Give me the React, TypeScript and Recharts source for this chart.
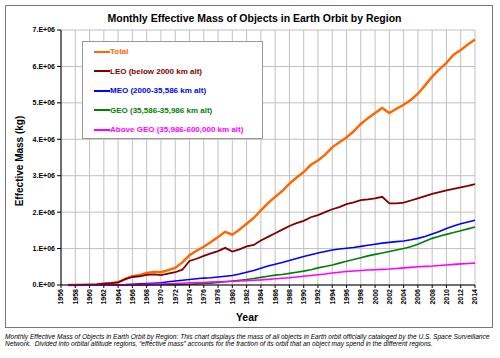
import { LineChart, Line, XAxis, YAxis, CartesianGrid } from 'recharts';

// values in millions of kg, one per year
const YEARS = [
  1957, 1958, 1959, 1960, 1961, 1962, 1963, 1964, 1965, 1966,
  1967, 1968, 1969, 1970, 1971, 1972, 1973, 1974, 1975, 1976,
  1977, 1978, 1979, 1980, 1981, 1982, 1983, 1984, 1985, 1986,
  1987, 1988, 1989, 1990, 1991, 1992, 1993, 1994, 1995, 1996,
  1997, 1998, 1999, 2000, 2001, 2002, 2003, 2004, 2005, 2006,
  2007, 2008, 2009, 2010, 2011, 2012, 2013, 2014,
];

const TOTAL = [
  0, 0.002, 0.005, 0.01, 0.018, 0.035, 0.05, 0.075, 0.17, 0.24,
  0.27, 0.33, 0.36, 0.35, 0.41, 0.47, 0.62, 0.82, 0.94, 1.05,
  1.18, 1.32, 1.46, 1.38, 1.52, 1.68, 1.84, 2.05, 2.25, 2.42,
  2.58, 2.78, 2.95, 3.1, 3.3, 3.42, 3.58, 3.78, 3.92, 4.05,
  4.22, 4.42, 4.58, 4.72, 4.86, 4.72, 4.84, 4.95, 5.08, 5.25,
  5.48, 5.72, 5.92, 6.1, 6.32, 6.45, 6.6, 6.74,
];

const LEO = [
  0, 0.002, 0.005, 0.01, 0.018, 0.035, 0.05, 0.075, 0.16, 0.22,
  0.24, 0.28, 0.29, 0.27, 0.31, 0.35, 0.42, 0.66, 0.72, 0.8,
  0.87, 0.93, 1.02, 0.92, 0.98, 1.06, 1.1, 1.22, 1.32, 1.42,
  1.52, 1.62, 1.7, 1.76, 1.86, 1.92, 2.0, 2.08, 2.14, 2.22,
  2.27, 2.33, 2.35, 2.38, 2.42, 2.24, 2.24, 2.26, 2.32, 2.38,
  2.44, 2.5, 2.55, 2.6, 2.64, 2.68, 2.72, 2.77,
];

const MEO = [
  0, 0, 0, 0, 0, 0, 0.002, 0.005, 0.01, 0.02,
  0.03, 0.04, 0.05, 0.06, 0.09, 0.11, 0.13, 0.15, 0.17, 0.19,
  0.2, 0.22, 0.24, 0.26, 0.3, 0.35, 0.4, 0.46, 0.52, 0.57,
  0.62, 0.67, 0.73, 0.78, 0.83, 0.88, 0.92, 0.96, 0.99, 1.01,
  1.03, 1.06, 1.09, 1.12, 1.15, 1.17, 1.19, 1.21, 1.24, 1.28,
  1.33, 1.4, 1.47, 1.55, 1.62, 1.68, 1.73, 1.78,
];

const GEO = [
  0, 0, 0, 0, 0, 0, 0, 0, 0.001, 0.002,
  0.003, 0.004, 0.005, 0.005, 0.008, 0.01, 0.015, 0.02, 0.03, 0.04,
  0.05, 0.07, 0.09, 0.11, 0.13, 0.15, 0.18, 0.21, 0.24, 0.27,
  0.29, 0.32, 0.35, 0.38, 0.42, 0.47, 0.51, 0.55, 0.6, 0.65,
  0.7, 0.75, 0.8, 0.84, 0.88, 0.92, 0.96, 1.0, 1.05, 1.12,
  1.2, 1.28, 1.34, 1.39, 1.44, 1.49, 1.54, 1.59,
];

const ABOVE_GEO = [
  0, 0, 0, 0, 0, 0, 0, 0.002, 0.005, 0.01,
  0.015, 0.02, 0.025, 0.03, 0.035, 0.04, 0.05, 0.06, 0.065, 0.07,
  0.08, 0.09, 0.095, 0.1, 0.11, 0.12, 0.13, 0.14, 0.155, 0.17,
  0.185, 0.2, 0.22, 0.24, 0.26, 0.28, 0.3, 0.33, 0.35, 0.37,
  0.385, 0.4, 0.41, 0.42, 0.43, 0.44, 0.455, 0.47, 0.485, 0.5,
  0.51, 0.52, 0.535, 0.55, 0.565, 0.58, 0.59, 0.6,
];

const X_TICKS = [
  1956, 1958, 1960, 1962, 1964, 1966, 1968, 1970, 1972, 1974,
  1976, 1978, 1980, 1982, 1984, 1986, 1988, 1990, 1992, 1994,
  1996, 1998, 2000, 2002, 2004, 2006, 2008, 2010, 2012, 2014,
];
const Y_TICKS = [0, 1, 2, 3, 4, 5, 6, 7];

const SERIES = [
  { key: 'total', name: 'Total', color: '#FF6600', width: 2.4 },
  { key: 'leo', name: 'LEO (below 2000 km alt)', color: '#800000', width: 1.8 },
  { key: 'meo', name: 'MEO (2000-35,586 km alt)', color: '#0000FF', width: 1.6 },
  { key: 'geo', name: 'GEO (35,586-35,986 km alt)', color: '#008000', width: 1.6 },
  { key: 'above', name: 'Above GEO (35,986-600,000 km alt)', color: '#FF00FF', width: 1.6 },
];

const data = YEARS.map((year, i) => ({
  year,
  total: TOTAL[i],
  leo: LEO[i],
  meo: MEO[i],
  geo: GEO[i],
  above: ABOVE_GEO[i],
}));

const FONT = '"Liberation Sans", Arial, sans-serif';

function YearTick({ x, y, payload }: any) {
  return (
    <text
      x={x}
      y={y}
      transform={`rotate(-90 ${x} ${y})`}
      textAnchor="end"
      dy="0.35em"
      fontSize={7}
      fontWeight="bold"
      fontFamily={FONT}
      fill="#000"
    >
      {payload.value}
    </text>
  );
}

const fmtY = (v: number) => (v === 0 ? '0.E+00' : `${v}.E+06`);

export default function App() {
  return (
    <div style={{ position: 'absolute', left: 0, top: 0, width: 500, height: 358, background: '#fff', fontFamily: FONT }}>
      <div style={{ position: 'absolute', left: 5, top: 5, width: 486, height: 321, border: '1px solid #777' }} />

      <div style={{ position: 'absolute', left: 0, width: 509, top: 12, textAlign: 'center', fontSize: 10.5, fontWeight: 'bold' }}>
        Monthly Effective Mass of Objects in Earth Orbit by Region
      </div>

      <div style={{ position: 'absolute', left: 19, top: 161, width: 0, height: 0 }}>
        <div style={{ position: 'absolute', transform: 'translate(-50%, -50%) rotate(-90deg)', whiteSpace: 'nowrap', fontSize: 10, fontWeight: 'bold' }}>
          Effective Mass (kg)
        </div>
      </div>

      <div style={{ position: 'absolute', left: 0, width: 494, top: 311, textAlign: 'center', fontSize: 10.5, fontWeight: 'bold' }}>
        Year
      </div>

      <LineChart
        width={500}
        height={358}
        data={data}
        margin={{ top: 30, right: 25, bottom: 43, left: 0 }}
        style={{ position: 'absolute', left: 0, top: 0 }}
      >
        <CartesianGrid stroke="#c0c0c0" strokeWidth={1} />
        <XAxis
          dataKey="year"
          type="number"
          domain={[1956, 2014]}
          ticks={X_TICKS}
          interval={0}
          height={30}
          tick={<YearTick />}
          tickSize={3}
          tickMargin={1}
          axisLine={{ stroke: '#000' }}
          tickLine={{ stroke: '#000' }}
        />
        <YAxis
          type="number"
          domain={[0, 7]}
          ticks={Y_TICKS}
          width={61}
          tickFormatter={fmtY}
          tick={{ fontSize: 7, fontWeight: 'bold', fill: '#000', fontFamily: FONT }}
          tickSize={4}
          tickMargin={2}
          axisLine={{ stroke: '#000' }}
          tickLine={{ stroke: '#000' }}
        />
        {SERIES.map((s) => (
          <Line
            key={s.key}
            type="linear"
            dataKey={s.key}
            name={s.name}
            stroke={s.color}
            strokeWidth={s.width}
            dot={false}
            isAnimationActive={false}
          />
        ))}
      </LineChart>

      <div
        style={{
          position: 'absolute', left: 82, top: 41, width: 179, height: 96,
          background: '#fff', border: '1px solid #999',
        }}
      >
        {SERIES.map((s, i) => (
          <div
            key={s.key}
            style={{
              position: 'absolute', left: 11, top: 4 + i * 19.5, height: 11,
              display: 'flex', alignItems: 'center', whiteSpace: 'nowrap',
            }}
          >
            <span style={{ display: 'inline-block', width: 16, height: 2, background: s.color }} />
            <span style={{ color: s.color, fontSize: 8, fontWeight: 'bold' }}>{s.name}</span>
          </div>
        ))}
      </div>

      <div style={{ position: 'absolute', left: 5, top: 333, width: 494, fontSize: 6.6, fontStyle: 'italic', lineHeight: '7.4px', color: '#000', whiteSpace: 'nowrap' }}>
        Monthly Effective Mass of Objects in Earth Orbit by Region: This chart displays the mass of all objects in Earth orbit officially cataloged by the U.S. Space Surveillance
        <br />
        Network.&nbsp; Divided into orbital altitude regions, “effective mass” accounts for the fraction of its orbit that an object may spend in the different regions.
      </div>
    </div>
  );
}
